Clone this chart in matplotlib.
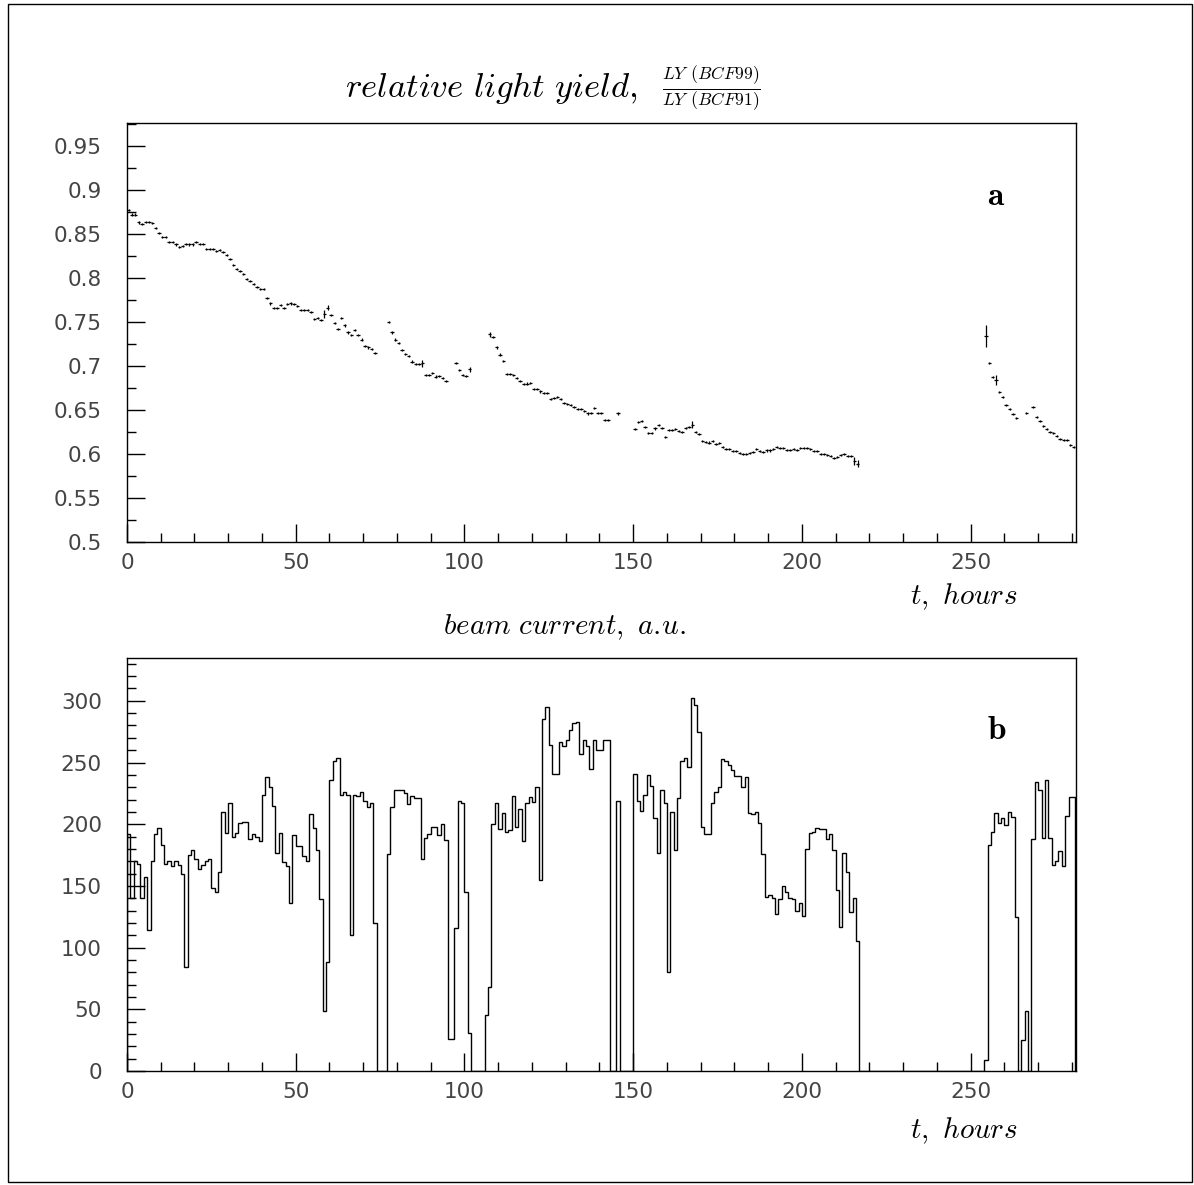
import numpy as np
import matplotlib
matplotlib.use("Agg")
from matplotlib import pyplot as plt
from matplotlib.patches import Rectangle
from matplotlib.ticker import MultipleLocator

plt.rcParams['mathtext.fontset'] = 'cm'
plt.rcParams['font.family'] = ['DejaVu Sans']

# relative light yield, one point per hour bin (gaps where the beam was off)
ly_hours = (list(range(0, 74)) + list(range(77, 95)) + list(range(97, 102))
            + list(range(107, 143)) + [145] + list(range(150, 217))
            + list(range(254, 264)) + [266] + list(range(268, 281)))
ly_vals = [
    # 0-73
    0.877, 0.872, 0.872, 0.863, 0.861, 0.864, 0.864, 0.862, 0.857, 0.851,
    0.846, 0.846, 0.841, 0.841, 0.838, 0.835, 0.836, 0.839, 0.838, 0.838,
    0.841, 0.839, 0.839, 0.833, 0.833, 0.833, 0.831, 0.832, 0.829, 0.826,
    0.822, 0.815, 0.810, 0.808, 0.804, 0.799, 0.797, 0.793, 0.790, 0.787,
    0.787, 0.777, 0.771, 0.766, 0.766, 0.769, 0.766, 0.770, 0.771, 0.770,
    0.768, 0.764, 0.764, 0.764, 0.761, 0.753, 0.754, 0.752, 0.759, 0.766,
    0.758, 0.749, 0.742, 0.754, 0.746, 0.738, 0.735, 0.741, 0.735, 0.730,
    0.723, 0.721, 0.719, 0.715,
    # 77-94
    0.750, 0.738, 0.730, 0.726, 0.718, 0.714, 0.711, 0.705, 0.702, 0.702,
    0.703, 0.690, 0.690, 0.692, 0.688, 0.689, 0.686, 0.683,
    # 97-101
    0.703, 0.695, 0.690, 0.689, 0.696,
    # 107-142
    0.736, 0.733, 0.721, 0.713, 0.706, 0.691, 0.691, 0.690, 0.686, 0.683,
    0.679, 0.680, 0.681, 0.674, 0.674, 0.671, 0.669, 0.669, 0.662, 0.664,
    0.665, 0.662, 0.658, 0.657, 0.656, 0.653, 0.651, 0.651, 0.649, 0.646,
    0.647, 0.652, 0.647, 0.647, 0.639, 0.639,
    # 145
    0.646,
    # 150-216
    0.628, 0.636, 0.637, 0.631, 0.624, 0.624, 0.629, 0.633, 0.630, 0.619,
    0.627, 0.627, 0.628, 0.626, 0.625, 0.630, 0.631, 0.633, 0.625, 0.623,
    0.615, 0.614, 0.613, 0.615, 0.611, 0.612, 0.608, 0.606, 0.606, 0.603,
    0.603, 0.601, 0.600, 0.600, 0.601, 0.602, 0.606, 0.603, 0.602, 0.604,
    0.604, 0.606, 0.608, 0.607, 0.607, 0.605, 0.605, 0.606, 0.605, 0.607,
    0.607, 0.607, 0.606, 0.603, 0.603, 0.600, 0.600, 0.599, 0.598, 0.595,
    0.597, 0.599, 0.600, 0.598, 0.598, 0.592, 0.589,
    # 254-263
    0.734, 0.703, 0.687, 0.684, 0.670, 0.665, 0.656, 0.651, 0.645, 0.641,
    # 266
    0.647,
    # 268-280
    0.653, 0.642, 0.637, 0.632, 0.628, 0.625, 0.624, 0.620, 0.617, 0.616,
    0.616, 0.610, 0.608,
]
ly_err_default = 0.0012
ly_err_big = {58: 0.005, 59: 0.003, 87: 0.004, 101: 0.003, 107: 0.003,
              167: 0.004, 215: 0.004, 216: 0.004, 254: 0.013, 257: 0.006}

# beam current, a.u., 1 hour bins from 0 to 281 h
beam = [
    192, 140, 170, 168, 140, 157, 114, 170, 192, 197,
    183, 168, 170, 166, 170, 167, 160, 84, 175, 179,
    172, 164, 167, 170, 172, 148, 145, 161, 210, 193,
    217, 190, 193, 201, 202, 202, 188, 192, 190, 186,
    224, 238, 230, 215, 177, 193, 169, 166, 136, 191,
    182, 182, 174, 170, 208, 197, 179, 139, 49, 88,
    236, 251, 254, 224, 226, 224, 110, 224, 223, 226,
    219, 214, 217, 120, 0, 0, 0, 176, 214, 228,
    228, 228, 225, 216, 223, 221, 221, 172, 189, 192,
    198, 198, 191, 200, 187, 26, 26, 116, 219, 217,
    145, 31, 0, 0, 0, 0, 45, 68, 200, 217,
    196, 209, 194, 195, 223, 198, 212, 186, 217, 222,
    218, 230, 155, 285, 295, 264, 241, 241, 267, 263,
    268, 276, 282, 283, 257, 268, 263, 245, 268, 260,
    260, 268, 268, 0, 0, 219, 0, 0, 0, 0,
    241, 219, 211, 224, 240, 231, 205, 177, 228, 217,
    80, 210, 179, 221, 251, 254, 246, 302, 297, 275,
    198, 192, 192, 217, 226, 230, 253, 251, 248, 244,
    239, 239, 230, 238, 209, 208, 210, 201, 176, 141,
    143, 140, 127, 139, 150, 145, 140, 139, 130, 136,
    126, 180, 193, 194, 197, 196, 196, 188, 192, 179,
    147, 117, 177, 161, 129, 140, 105] + [0] * 37 + [
    9, 183, 194, 209, 201, 205, 199, 210, 206, 125,
    0, 25, 49, 0, 188, 234, 228, 189, 236, 189,
    167, 170, 178, 166, 207, 222, 222,
]

top_ticks = [0.5, 0.55, 0.6, 0.65, 0.7, 0.75, 0.8, 0.85, 0.9, 0.95]
top_labels = ['0.5', '0.55', '0.6', '0.65', '0.7', '0.75', '0.8', '0.85', '0.9', '0.95']
x_ticks = [0, 50, 100, 150, 200, 250]


def style_axes(ax):
    for s in ax.spines.values():
        s.set_linewidth(1.0)
    ax.tick_params(which='both', direction='in', top=False, right=False,
                   labelsize=15.5, labelcolor='#444444', width=1.0)
    ax.tick_params(which='major', length=13)
    ax.tick_params(which='minor', length=6.5)
    ax.tick_params(axis='y', pad=18)
    ax.tick_params(axis='x', pad=8)
    ax.set_xlim(0, 281.2)
    ax.set_xticks(x_ticks)
    ax.xaxis.set_minor_locator(MultipleLocator(10))


fig = plt.figure(figsize=(11.94, 11.85), dpi=100)
fig.patches.append(Rectangle((8 / 1194, 3 / 1185), 1184 / 1194, 1178 / 1185,
                             transform=fig.transFigure, fill=False,
                             edgecolor='black', linewidth=1.0))

# top panel: light yield ratio
ax1 = fig.add_axes([127 / 1194, 1 - 542 / 1185, 949 / 1194, 419 / 1185])
style_axes(ax1)
errs = [ly_err_big.get(h, ly_err_default) for h in ly_hours]
ax1.errorbar(np.array(ly_hours) + 0.5, ly_vals, xerr=0.5, yerr=errs,
             fmt='none', ecolor='black', elinewidth=0.9)
ax1.set_ylim(0.5, 0.976)
ax1.set_yticks(top_ticks)
ax1.set_yticklabels(top_labels)
ax1.yaxis.set_minor_locator(MultipleLocator(0.025))
ax1.text(0.9157, 0.828, r'$\mathbf{a}$', transform=ax1.transAxes,
         ha='center', va='center', fontsize=24)

# bottom panel: beam current histogram
ax2 = fig.add_axes([127 / 1194, 1 - 1071 / 1185, 949 / 1194, 413 / 1185])
style_axes(ax2)
edges = np.arange(len(beam) + 1)
ax2.stairs(beam, edges, color='black', linewidth=1.0, baseline=0)
ax2.set_ylim(0, 334.7)
ax2.set_yticks([0, 50, 100, 150, 200, 250, 300])
ax2.yaxis.set_minor_locator(MultipleLocator(10))
ax2.text(0.9167, 0.828, r'$\mathbf{b}$', transform=ax2.transAxes,
         ha='center', va='center', fontsize=24)

# titles and axis labels
fig.text(345 / 1194, 1 - 97 / 1185, r'$relative\ light\ yield,$',
         ha='left', va='baseline', fontsize=25)
fig.text(711 / 1194, 1 - 89 / 1185, r'$\frac{LY\;\,(BCF99)}{LY\;\,(BCF91)}$',
         ha='center', va='center', fontsize=18)
fig.text(1017 / 1194, 1 - 597 / 1185, r'$t,\ hours$', ha='right', va='center', fontsize=21)
fig.text(565 / 1194, 1 - 627 / 1185, r'$beam\ current,\ a.\!u.$',
         ha='center', va='center', fontsize=21)
fig.text(1017 / 1194, 1 - 1131 / 1185, r'$t,\ hours$', ha='right', va='center', fontsize=21)

plt.savefig('out.png', dpi=100)
